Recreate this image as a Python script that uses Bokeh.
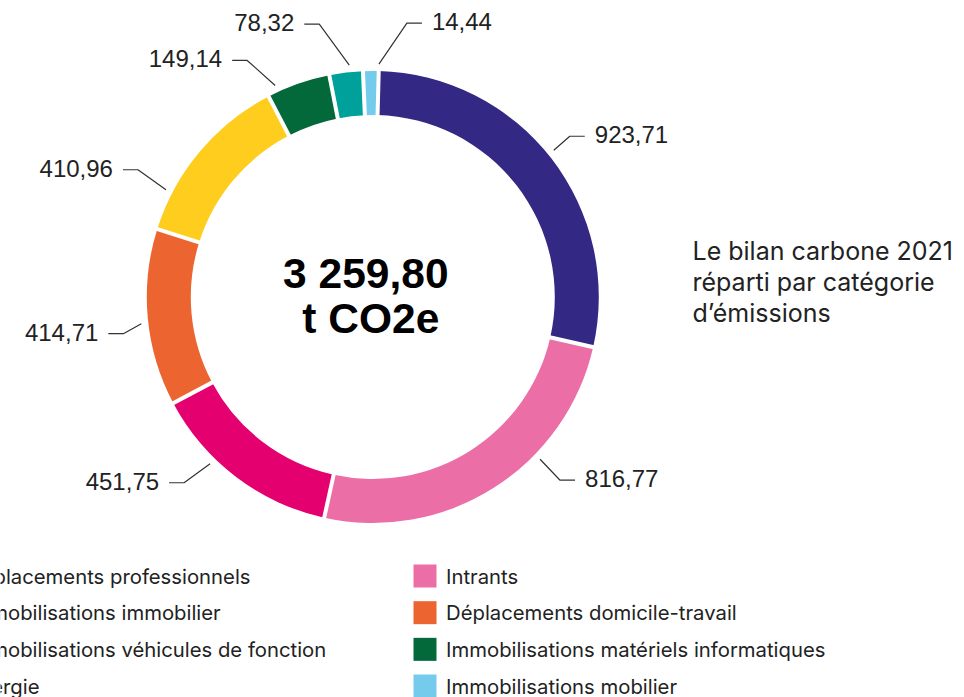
import math
from bokeh.plotting import figure
from bokeh.models import Range1d, ColumnDataSource
from bokeh.core.properties import value
from bokeh.embed import file_html
from bokeh.resources import INLINE

# ---------------- data ----------------
categories = [
    "Déplacements professionnels",
    "Intrants",
    "Immobilisations immobilier",
    "Déplacements domicile-travail",
    "Immobilisations véhicules de fonction",
    "Immobilisations matériels informatiques",
    "Énergie",
    "Immobilisations mobilier",
]
values = [923.71, 816.77, 451.75, 414.71, 410.96, 149.14, 78.32, 14.44]
unit_label = "t CO2e"
side_title = ["Le bilan carbone 2021", "réparti par catégorie", "d’émissions"]

# ---------------- style / layout ----------------
colors = ["#332883", "#ec6ea6", "#e4006e", "#ec6530",
          "#fecd1e", "#03683a", "#00a19a", "#74cbec"]
W, H = 964, 697
CX, CY = 372.3, 296.5          # page px
R_OUT, R_IN = 226, 182
START_DEG = 1.5
MIN_SLICE_DEG = 4.0
GAP_PX = 4
TEXT = "#222222"
label_nudge_deg = [-1.2, -13.5, 7.1, -1.3, -12.6, -5.5, 1.0, 2.0]
leader_elbow = [(16, -14), (20, 21), (-26, 19), (-18, 10),
                (-28, -20), (-28, -25), (-30, -41), (28, -41)]
ANCHOR_R = 233
TAIL = 15
TEXT_GAP = 10


def fmt(v):
    s = f"{v:,.2f}"
    return s.replace(",", " ").replace(".", ",")


p = figure(width=W, height=H, output_backend="svg", toolbar_location=None,
           x_range=Range1d(0, W), y_range=Range1d(-H, 0),
           min_border=0, background_fill_color="white",
           border_fill_color="white")
p.axis.visible = False
p.grid.visible = False
p.outline_line_color = None

# ---------------- slices ----------------
total = sum(values)
raw = [v / total * 360 for v in values]
small = [d < MIN_SLICE_DEG for d in raw]
free = 360 - MIN_SLICE_DEG * sum(small)
rest = sum(v for v, s in zip(values, small) if not s)
disp = [MIN_SLICE_DEG if s else v / rest * free for v, s in zip(values, small)]

starts, ends = [], []
acc = START_DEG
for d in disp:
    starts.append(acc)
    acc += d
    ends.append(acc)


def to_rad(theta_deg):
    return math.radians(90 - theta_deg)


src = ColumnDataSource(dict(
    x=[CX] * len(values), y=[-CY] * len(values),
    start=[to_rad(e) for e in ends], end=[to_rad(s) for s in starts],
    color=colors, cat=categories, val=values,
))
p.annular_wedge(x="x", y="y", inner_radius=R_IN, outer_radius=R_OUT,
                start_angle="start", end_angle="end", direction="anticlock",
                fill_color="color", line_color=None, source=src)

# white gaps at each boundary
gx0, gy0, gx1, gy1 = [], [], [], []
for b in starts:
    a = math.radians(b)
    gx0.append(CX + (R_IN - 4) * math.sin(a))
    gy0.append(-(CY - (R_IN - 4) * math.cos(a)))
    gx1.append(CX + (R_OUT + 4) * math.sin(a))
    gy1.append(-(CY - (R_OUT + 4) * math.cos(a)))
p.segment(x0=gx0, y0=gy0, x1=gx1, y1=gy1, line_color="white",
          line_width=GAP_PX)

# ---------------- leader lines + value labels ----------------
xs, ys = [], []
lab_r = dict(x=[], y=[], t=[])
lab_l = dict(x=[], y=[], t=[])
for i, v in enumerate(values):
    mid = (starts[i] + ends[i]) / 2 + label_nudge_deg[i]
    a = math.radians(mid)
    ax = CX + ANCHOR_R * math.sin(a)
    ay = CY - ANCHOR_R * math.cos(a)
    ex = ax + leader_elbow[i][0]
    ey = ay + leader_elbow[i][1]
    side = 1 if leader_elbow[i][0] > 0 else -1
    tx = ex + side * TAIL
    xs.append([ax, ex, tx])
    ys.append([-ay, -ey, -ey])
    d = lab_r if side > 0 else lab_l
    d["x"].append(tx + side * TEXT_GAP)
    d["y"].append(-(ey - 1.5))
    d["t"].append(fmt(v))

p.multi_line(xs=xs, ys=ys, line_color="#333333", line_width=1.2)
for d, al in ((lab_r, "left"), (lab_l, "right")):
    p.text(x=d["x"], y=d["y"], text=d["t"], text_align=al,
           text_baseline="middle", text_font=value("Liberation Sans"),
           text_font_size="24px", text_color=TEXT)

# ---------------- center total ----------------
p.text(x=[CX - 7, CX - 2], y=[-273, -318], text=[fmt(total), unit_label],
       text_align="center", text_baseline="middle",
       text_font=value("Liberation Sans"), text_font_style="bold",
       text_font_size="42.5px", text_color="#000000")

# ---------------- side title ----------------
p.text(x=[692] * 3, y=[-250, -281, -312], text=side_title,
       text_align="left", text_baseline="alphabetic",
       text_font=value("Inter"), text_font_size="25px", text_color=TEXT)

# ---------------- legend ----------------
SW = 23
COL_X = [-66, 413]
ROW_Y0, ROW_DY = 575.5, 36.67
lg = dict(x=[], y=[], c=[], tx=[], t=[])
for i, cat in enumerate(categories):
    col, row = i % 2, i // 2
    yy = ROW_Y0 + row * ROW_DY
    lg["x"].append(COL_X[col] + SW / 2)
    lg["y"].append(-yy)
    lg["c"].append(colors[i])
    lg["tx"].append(COL_X[col] + SW + 9.5)
    lg["t"].append(cat)
p.rect(x=lg["x"], y=lg["y"], width=SW, height=SW, fill_color=lg["c"],
       line_color=None)
p.text(x=lg["tx"], y=lg["y"], text=lg["t"], text_align="left",
       text_baseline="middle", text_font=value("Inter"),
       text_font_size="20.3px", text_color=TEXT)

open("out.html", "w").write(file_html(p, INLINE))
